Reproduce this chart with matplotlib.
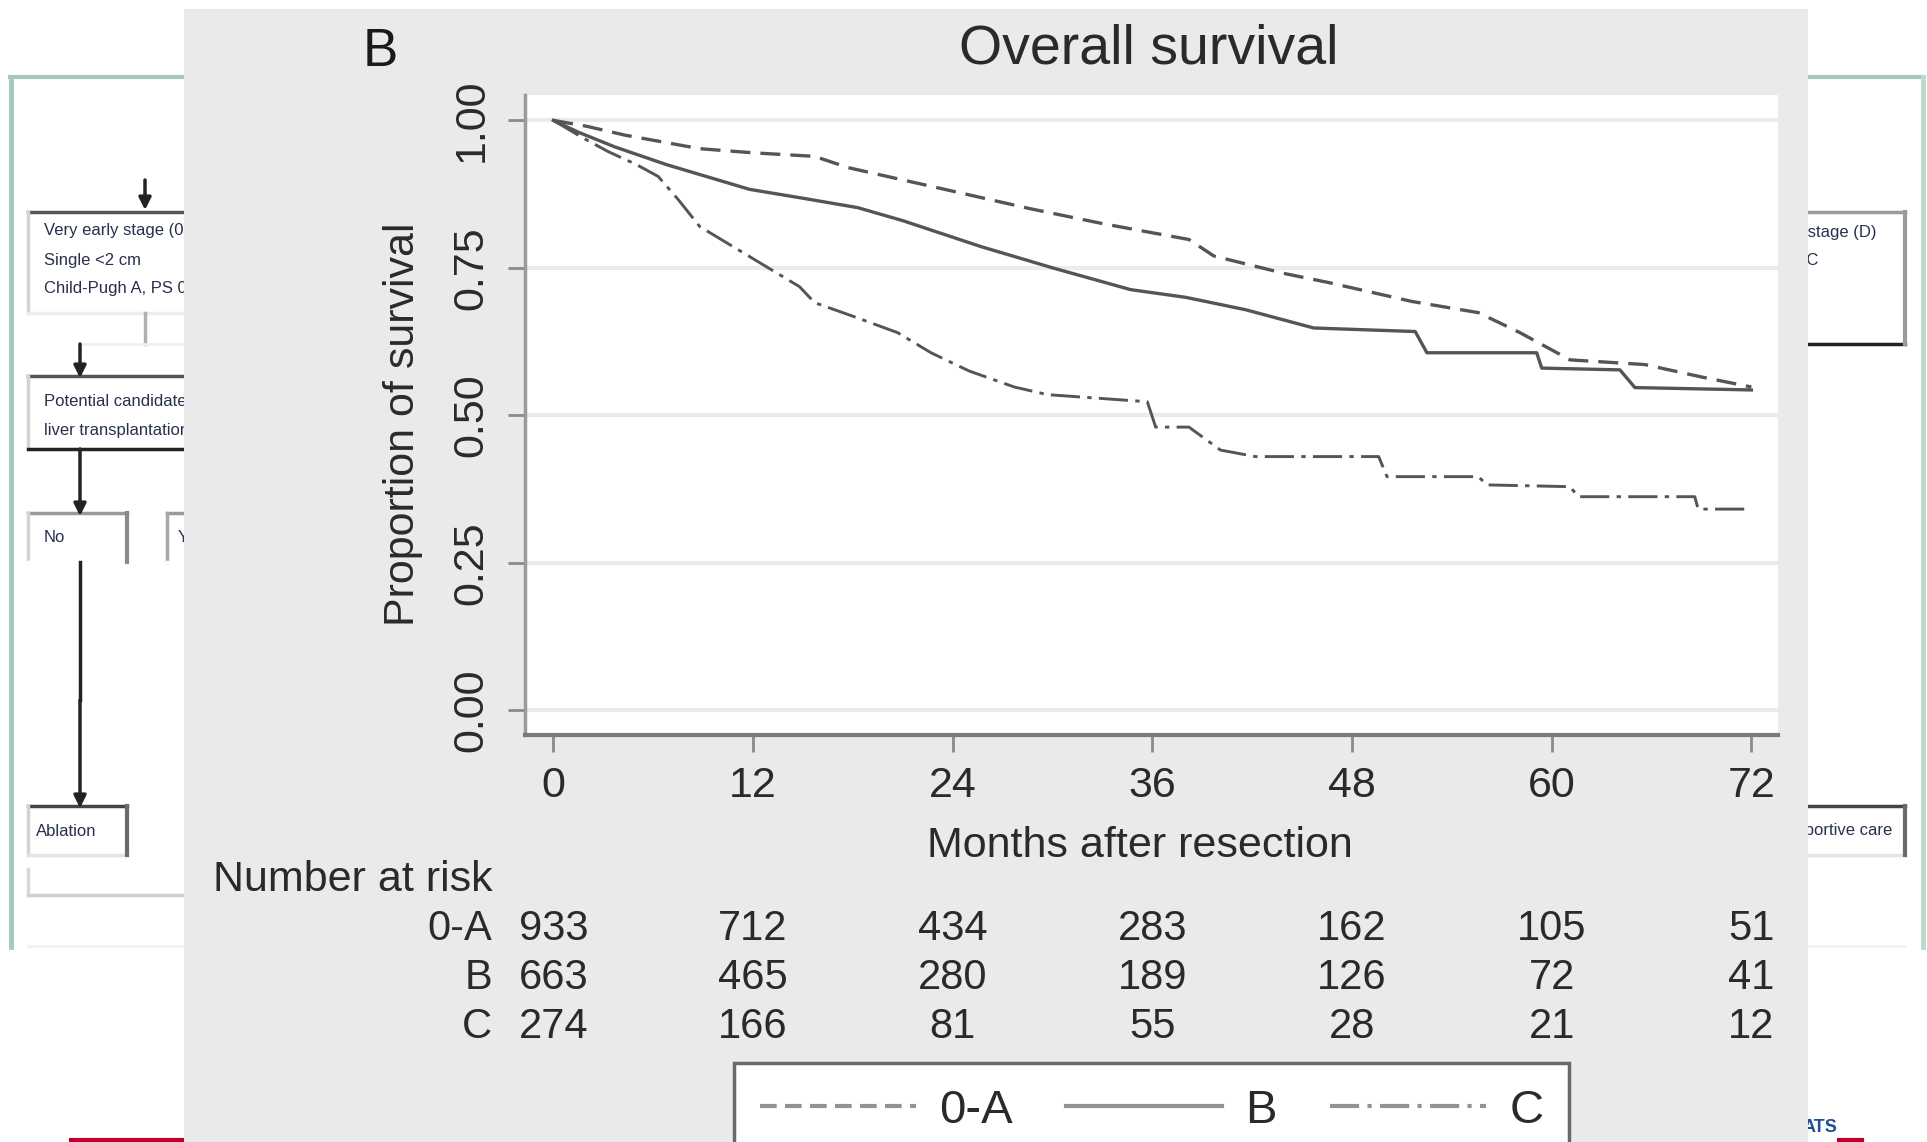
import matplotlib
matplotlib.use("Agg")
import matplotlib.pyplot as plt
from matplotlib.lines import Line2D
from matplotlib.patches import Rectangle
from matplotlib.transforms import blended_transform_factory

plt.rcParams['font.family'] = ['Liberation Sans', 'DejaVu Sans']

# --- data ---
months_0a = [0, 2, 4.3, 8.8, 12, 15.7, 17.7, 24, 28.7, 33, 38.2, 39.7, 44, 46.6,
             51.6, 55.6, 58.1, 61.1, 65.6, 69, 72]
surv_0a = [1.0, 0.99, 0.975, 0.952, 0.945, 0.939, 0.92, 0.88, 0.85, 0.825, 0.798,
           0.77, 0.74, 0.725, 0.693, 0.674, 0.64, 0.594, 0.586, 0.565, 0.548]

months_b = [0, 1.5, 3.7, 6.8, 11.8, 15, 18.3, 21, 25.7, 30, 34.7, 38, 41.6, 45.7,
            51.8, 52.5, 59.1, 59.4, 64.1, 65.0, 72]
surv_b = [1.0, 0.98, 0.955, 0.925, 0.883, 0.868, 0.852, 0.83, 0.786, 0.75, 0.713,
          0.70, 0.679, 0.648, 0.642, 0.606, 0.606, 0.58, 0.577, 0.547, 0.543]

months_c = [0, 1.8, 3.3, 5, 6.3, 7.5, 8.8, 11.8, 14.8, 15.7, 18, 20.7, 22.7, 25,
            27.7, 29.7, 35.7, 36.2, 38.2, 40.1, 42.2, 49.6, 50.1, 55.6, 56.1,
            61.1, 61.6, 68.6, 68.8, 72]
surv_c = [1.0, 0.97, 0.947, 0.925, 0.905, 0.866, 0.82, 0.769, 0.718, 0.691, 0.668,
          0.64, 0.606, 0.575, 0.548, 0.535, 0.523, 0.48, 0.48, 0.441, 0.43, 0.43,
          0.396, 0.396, 0.382, 0.379, 0.362, 0.362, 0.341, 0.341]

groups = ['0-A', 'B', 'C']
risk_times = [0, 12, 24, 36, 48, 60, 72]
risk_0a = [933, 712, 434, 283, 162, 105, 51]
risk_b = [663, 465, 280, 189, 126, 72, 41]
risk_c = [274, 166, 81, 55, 28, 21, 12]

W, H = 1927, 1142
fig = plt.figure(figsize=(W / 100, H / 100), dpi=100)
fig.patch.set_facecolor('white')


def fx(x):
    return x / W


def fy(y):
    return 1 - y / H


# --- background page (flowchart behind the panel) ---
bg = fig.add_axes([0, 0, 1, 1])
bg.set_xlim(0, W)
bg.set_ylim(H, 0)
bg.axis('off')

green = '#a3cbb7'
bg.plot([10, 1923], [77, 77], color=green, lw=3)
bg.plot([11, 11], [77, 947], color=green, lw=3.5)
bg.plot([1923, 1923], [77, 947], color='#bcdacb', lw=3.5)
bg.plot([28, 1905], [946, 946], color='#eef3ef', lw=2)


def box(x0, x1, y0, y1, top='#555555', left='#d4d4d4', right=None, bottom='#ececec'):
    bg.plot([x0, x1], [y0, y0], color=top, lw=2.5)
    bg.plot([x0, x0], [y0, y1], color=left, lw=2.5)
    bg.plot([x0, x1], [y1, y1], color=bottom, lw=2.5)
    if right:
        bg.plot([x1, x1], [y0, y1], color=right, lw=3)


def arrow(x, y0, y1):
    bg.annotate('', xy=(x, y1), xytext=(x, y0),
                arrowprops=dict(arrowstyle='-|>', color='#222222', lw=2.5,
                                mutation_scale=18, shrinkA=0, shrinkB=0))


txt = dict(fontsize=12, color='#27304d', va='center')
arrow(145, 180, 210)
box(28, 200, 212, 313)
bg.text(44, 231, 'Very early stage (0)', **txt)
bg.text(44, 260, 'Single <2 cm', **txt)
bg.text(44, 289, 'Child-Pugh A, PS 0', **txt)
bg.plot([145, 145], [313, 344], color='#b0b0b0', lw=2.5)
bg.plot([80, 200], [344, 344], color='#f0f0f0', lw=2)
arrow(80, 344, 378)
box(28, 200, 376, 449, bottom='#222222')
bg.text(44, 401, 'Potential candidate for', **txt)
bg.text(44, 430, 'liver transplantation', **txt)
arrow(80, 449, 516)
box(28, 127, 513, 562, top='#9a9a9a', right='#8a8a8a', bottom='white')
bg.text(44, 537, 'No', **txt)
box(167, 260, 513, 562, top='#9a9a9a', left='#a8a8a8', bottom='white')
bg.text(178, 537, 'Yes', **txt)
bg.plot([80, 80], [562, 700], color='#222222', lw=2.5)
arrow(80, 700, 808)
box(28, 127, 806, 855, top='#444444', right='#6a6a6a', bottom='#e4e4e4')
bg.text(36, 831, 'Ablation', **txt)
bg.plot([28, 28], [869, 895], color='#d8d8d8', lw=2.5)
bg.plot([28, 200], [895, 895], color='#d0d0d0', lw=2.5)

box(1700, 1905, 212, 344, top='#9a9a9a', left='white', right='#9a9a9a', bottom='#222222')
bg.text(1877, 232, 'Terminal stage (D)', ha='right', **txt)
bg.text(1818, 261, 'Child-Pugh C', ha='right', **txt)
box(1700, 1905, 806, 855, top='#444444', left='white', right='#6a6a6a', bottom='#e4e4e4')
bg.text(1892, 831, 'Best supportive care', ha='right', **txt)

bg.plot([71, 184], [1140, 1140], color='#c0002a', lw=3)
bg.plot([1839, 1862], [1140, 1140], color='#c0002a', lw=3)
bg.text(1837, 1127, 'ATS', ha='right', va='center', fontsize=13,
        fontweight='bold', color='#1f4e96')

# grey graph panel on top of the page
bg.add_patch(Rectangle((184, 9), 1624, 1140, facecolor='#eaeaea',
                       edgecolor='none', zorder=10))

# --- survival plot ---
ax = fig.add_axes([fx(525), fy(735), fx(1778) - fx(525), fy(95) - fy(735)])
ax.set_facecolor('white')
ax.set_xlim(-1.7, 73.6)
ax.set_ylim(-0.042, 1.043)

for v in [0, 0.25, 0.5, 0.75, 1.0]:
    ax.axhline(v, color='#ebebeb', lw=3, zorder=1)

line_col = '#555555'
ax.plot(months_0a, surv_0a, color=line_col, lw=2.4, dashes=(6, 3), zorder=3)
ax.plot(months_b, surv_b, color=line_col, lw=2.4, zorder=3)
ax.plot(months_c, surv_c, color=line_col, lw=2.1, dashes=(10, 2.5, 1.5, 2.5), zorder=3)

for s in ['top', 'right']:
    ax.spines[s].set_visible(False)
ax.spines['left'].set_color('#9a9a9a')
ax.spines['bottom'].set_color('#7a7a7a')
ax.spines['left'].set_linewidth(2.5)
ax.spines['bottom'].set_linewidth(3)

ax.set_xticks(risk_times)
ax.set_yticks([0, 0.25, 0.5, 0.75, 1.0])
ax.set_yticklabels(['0.00', '0.25', '0.50', '0.75', '1.00'], rotation=90, va='center')
ax.tick_params(axis='both', labelsize=31, colors='#8a8a8a', labelcolor='#2a2a2a',
               length=12, width=2)
ax.tick_params(axis='x', pad=10)
ax.tick_params(axis='y', pad=12)

fig.text(fx(1149), fy(49), 'Overall survival', ha='center', va='center',
         fontsize=40, color='#2a2a2a')
fig.text(fx(380), fy(52), 'B', ha='center', va='center', fontsize=38, color='#1a1a1a')
fig.text(fx(403), fy(424), 'Proportion of survival', ha='center', va='center',
         rotation=90, fontsize=31, color='#2a2a2a')
fig.text(fx(1140), fy(846), 'Months after resection', ha='center', va='center',
         fontsize=31, color='#2a2a2a')
fig.text(fx(213), fy(880), 'Number at risk', ha='left', va='center',
         fontsize=31, color='#2a2a2a')

# number at risk table
tr = blended_transform_factory(ax.transData, fig.transFigure)
row_y = [929, 978, 1027]
for name, counts, y in zip(groups, [risk_0a, risk_b, risk_c], row_y):
    fig.text(fx(492), fy(y), name, ha='right', va='center', fontsize=30, color='#2a2a2a')
    for t, n in zip(risk_times, counts):
        ax.text(t, fy(y), str(n), transform=tr, ha='center', va='center',
                fontsize=30, color='#2a2a2a', clip_on=False)

# legend box (runs off the bottom edge)
leg_col = '#929292'
handles = [Line2D([], [], color=leg_col, lw=3, dashes=(4, 2)),
           Line2D([], [], color=leg_col, lw=3),
           Line2D([], [], color=leg_col, lw=3, dashes=(7, 2, 1, 2))]
leg = fig.legend(handles, groups, loc='upper left', bbox_to_anchor=(fx(734), fy(1063)),
                 ncol=3, fontsize=34, frameon=True, fancybox=False,
                 handlelength=3.3, handletextpad=0.5, columnspacing=1.12,
                 borderpad=0.55, borderaxespad=0)
leg.get_frame().set_edgecolor('#6a6a6a')
leg.get_frame().set_linewidth(2.5)
leg.get_frame().set_facecolor('white')
leg.get_frame().set_alpha(1)
for t in leg.get_texts():
    t.set_color('#2a2a2a')

fig.savefig('out.png', dpi=100)
